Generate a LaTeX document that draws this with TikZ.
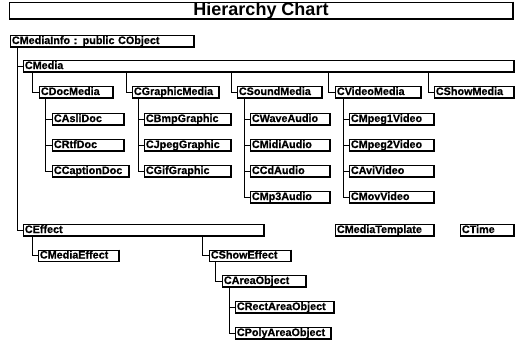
\documentclass[tikz,border=0pt]{standalone}
\usepackage{fontspec}
\setmainfont{Liberation Sans}[BoldFeatures={FakeBold=0.8}]
\newfontfamily\titlefont{Liberation Sans}
\newcommand\cls[5]{%
  \pgfmathsetmacro\clsw{#3-#2-3}%
  \node[cbox, text width=\clsw pt] (#1) at (#2,#4) {#5};
  \draw[shadowline] (#1.north east) -- (#1.south east) -- (#1.south west);
}
\newcommand\lnk[3]{%
  \draw[link] ([xshift=#2pt]#1.south west) |- (#3.west);
}
\begin{document}
\begin{tikzpicture}[x=1pt,y=-1pt,
  cbox/.style={draw, line width=0.8pt, anchor=west, align=left, inner xsep=1.5pt, inner ysep=0pt,
    minimum height=11pt, text height=8pt, text depth=2pt,
    font=\bfseries\fontsize{10.8}{10.8}\selectfont},
  shadowline/.style={line width=1.7pt},
  link/.style={line width=0.9pt}]
\useasboundingbox (0,0) rectangle (518,341);
% title
\node[draw, line width=0.8pt, minimum width=503pt, minimum height=15pt, inner sep=0pt,
  font=\titlefont\bfseries\fontsize{18}{18}\selectfont] (title) at (261,10.5) {Hierarchy Chart};
\draw[shadowline] (title.north east) -- (title.south east) -- (title.south west);
% root
\cls{mi}{10}{193}{41}{CMediaInfo : public CObject}
\cls{media}{23}{513}{66}{CMedia}
\cls{effect}{23}{263}{230}{CEffect}
\cls{tmpl}{335}{433}{230}{CMediaTemplate}
\cls{ctime}{460}{513}{230}{CTime}
% media level
\cls{docm}{39}{112}{92}{CDocMedia}
\cls{grm}{132}{218}{92}{CGraphicMedia}
\cls{snd}{237}{321}{92}{CSoundMedia}
\cls{vid}{335}{420}{92}{CVideoMedia}
\cls{shm}{434}{513}{92}{CShowMedia}
% doc children
\cls{asli}{52}{123}{119}{CAsliDoc}
\cls{rtf}{52}{123}{145}{CRtfDoc}
\cls{capt}{52}{128}{171}{CCaptionDoc}
% graphic children
\cls{bmp}{144}{230}{119}{CBmpGraphic}
\cls{jpeg}{144}{230}{145}{CJpegGraphic}
\cls{gif}{144}{230}{171}{CGifGraphic}
% sound children
\cls{wave}{250}{329}{119}{CWaveAudio}
\cls{midi}{250}{329}{145}{CMidiAudio}
\cls{cd}{250}{329}{171}{CCdAudio}
\cls{mp3}{250}{329}{197}{CMp3Audio}
% video children
\cls{mp1}{349}{433}{119}{CMpeg1Video}
\cls{mp2}{349}{433}{145}{CMpeg2Video}
\cls{avi}{349}{433}{171}{CAviVideo}
\cls{mov}{349}{433}{197}{CMovVideo}
% effect subtree
\cls{meff}{38}{118}{255.5}{CMediaEffect}
\cls{seff}{209}{290}{255.5}{CShowEffect}
\cls{area}{222}{305}{281}{CAreaObject}
\cls{rect}{235}{333}{307}{CRectAreaObject}
\cls{poly}{235}{330}{333}{CPolyAreaObject}
% connectors
\lnk{mi}{7}{media}
\lnk{mi}{7}{effect}
\lnk{media}{9}{docm}
\lnk{media}{103}{grm}
\lnk{media}{208}{snd}
\lnk{media}{305}{vid}
\lnk{media}{405}{shm}
\lnk{docm}{6}{asli}
\lnk{docm}{6}{rtf}
\lnk{docm}{6}{capt}
\lnk{grm}{6}{bmp}
\lnk{grm}{6}{jpeg}
\lnk{grm}{6}{gif}
\lnk{snd}{7}{wave}
\lnk{snd}{7}{midi}
\lnk{snd}{7}{cd}
\lnk{snd}{7}{mp3}
\lnk{vid}{8}{mp1}
\lnk{vid}{8}{mp2}
\lnk{vid}{8}{avi}
\lnk{vid}{8}{mov}
\lnk{effect}{9}{meff}
\lnk{effect}{179}{seff}
\lnk{seff}{6}{area}
\lnk{area}{7}{rect}
\lnk{area}{7}{poly}
\end{tikzpicture}
\end{document}
